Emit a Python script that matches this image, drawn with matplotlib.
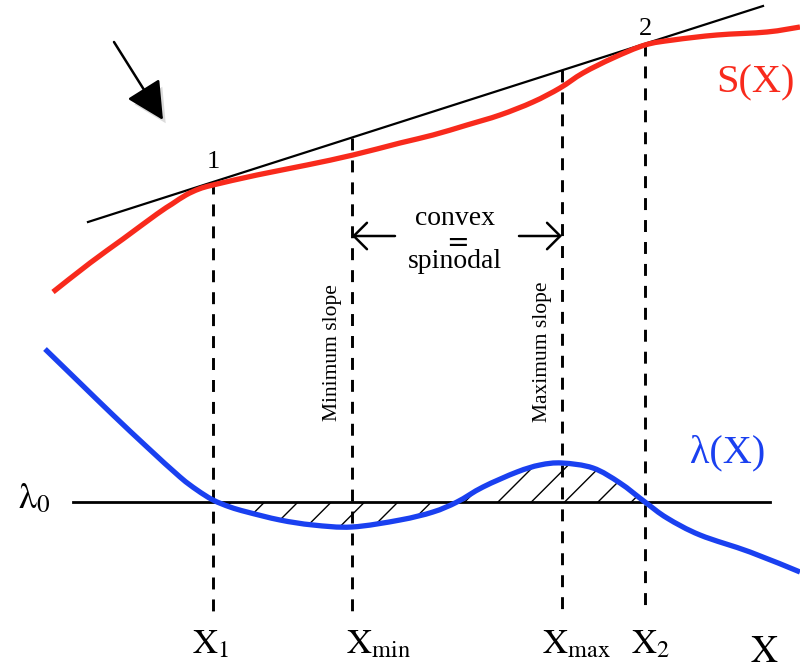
import matplotlib
matplotlib.use("Agg")
import matplotlib.pyplot as plt
import numpy as np
from matplotlib import patheffects as pe
from matplotlib.path import Path
from matplotlib.patches import PathPatch

plt.rcParams['mathtext.fontset'] = 'stix'
plt.rcParams['font.family'] = ['Liberation Serif', 'DejaVu Serif']
plt.rcParams['lines.scale_dashes'] = False
plt.rcParams['hatch.linewidth'] = 1.0

# ---- data (in picture units) ----
s_x = [53, 90, 123, 157, 172, 186, 199, 213, 257, 307, 353, 400, 433, 467, 500, 533, 560, 583, 613, 645, 673, 717, 767, 800]
s_y = [292, 263, 239, 214, 204, 195, 189, 185, 175, 165, 155, 143, 135, 125, 115, 102, 88, 73, 58, 45, 40, 35, 32, 27]

l_x = [45, 80, 113, 147, 180, 197, 213, 230, 247, 280, 313, 352, 400, 433, 457, 483, 517, 540, 562, 593, 620, 645, 667, 700, 750, 800]
l_y = [349, 383, 415, 447, 477, 490, 500, 507, 512, 520, 525, 527, 520, 512, 502, 487, 472, 465, 463, 468, 483, 502, 518, 535, 552, 572]

tangent_x = [88, 763]
tangent_y = [222, 6]

lambda0 = 502
lambda0_x = [73, 770]

v_x = [213, 352, 562, 645]
v_top = [182, 138, 70, 44]
axis_y = 613

tick_labels = [r'$\mathrm{X}_1$', r'$\mathrm{X}_{\mathrm{min}}$', r'$\mathrm{X}_{\mathrm{max}}$', r'$\mathrm{X}_2$']
tick_label_x = [211, 379, 577, 651]

RED = '#f82a1c'
BLUE = '#1a40f0'


def smooth_path_parts(xs, ys):
    """Bezier (Catmull-Rom) path through the given read points."""
    p = np.column_stack([xs, ys]).astype(float)
    n = len(p)
    verts = [p[0]]
    codes = [Path.MOVETO]
    for i in range(n - 1):
        p_prev = p[i - 1] if i > 0 else p[i]
        p_next2 = p[i + 2] if i + 2 < n else p[i + 1]
        c1 = p[i] + (p[i + 1] - p_prev) / 6.0
        c2 = p[i + 1] - (p_next2 - p[i]) / 6.0
        verts += [c1, c2, p[i + 1]]
        codes += [Path.CURVE4] * 3
    return verts, codes


fig = plt.figure(figsize=(8.0, 6.69), dpi=100)
ax = fig.add_axes([0, 0, 1, 1])
ax.set_xlim(0, 800)
ax.set_ylim(669, 0)
ax.axis('off')

# hatched region between lambda(X) and lambda0, from X1 to X2
i0 = l_x.index(v_x[0])
i1 = l_x.index(v_x[3])
hv, hc = smooth_path_parts(l_x[i0:i1 + 1], l_y[i0:i1 + 1])
hv = hv + [(v_x[3], lambda0), (v_x[0], lambda0), (v_x[0], lambda0)]
hc = hc + [Path.LINETO, Path.LINETO, Path.CLOSEPOLY]
ax.add_patch(PathPatch(Path(hv, hc), facecolor='none', edgecolor='black',
                       hatch='/', linewidth=0, zorder=1))

# vertical dashed lines
for x, top in zip(v_x, v_top):
    ax.plot([x, x], [top, axis_y], color='black', lw=2.1,
            dashes=(8.6, 7.2), zorder=2)

# lambda0 line
ax.plot(lambda0_x, [lambda0, lambda0], color='black', lw=2.0, zorder=2)

# tangent line
ax.plot(tangent_x, tangent_y, color='black', lw=1.6, zorder=3)

# curves
sv, sc = smooth_path_parts(s_x, s_y)
ax.add_patch(PathPatch(Path(sv, sc), facecolor='none', edgecolor=RED,
                       lw=3.8, capstyle='butt', zorder=4))
lv, lc = smooth_path_parts(l_x, l_y)
ax.add_patch(PathPatch(Path(lv, lc), facecolor='none', edgecolor=BLUE,
                       lw=3.8, capstyle='butt', zorder=4))

# X axis with arrow
ax.annotate('', xy=(804, axis_y), xytext=(45, axis_y),
            arrowprops=dict(arrowstyle='-|>,head_length=1.5,head_width=0.62',
                            mutation_scale=10, lw=2.0, color='black',
                            shrinkA=0, shrinkB=0), zorder=3)

# big pointer arrow top left
ann = ax.annotate('', xy=(163, 120), xytext=(114, 42),
                  arrowprops=dict(arrowstyle='-|>,head_length=2.35,head_width=1.19',
                                  mutation_scale=10, lw=1.8, color='black',
                                  shrinkA=0, shrinkB=0), zorder=5)
ann.arrow_patch.set_path_effects([
    pe.SimplePatchShadow(offset=(3, -4), shadow_rgbFace='#999999', alpha=0.35),
    pe.Normal()])

# convex = spinodal arrows
ax.annotate('', xy=(352, 236), xytext=(395, 236),
            arrowprops=dict(arrowstyle='->,head_length=0.95,head_width=0.95',
                            mutation_scale=10, lw=1.8, color='black',
                            shrinkA=0, shrinkB=0))
ax.annotate('', xy=(562, 236), xytext=(519, 236),
            arrowprops=dict(arrowstyle='->,head_length=0.95,head_width=0.95',
                            mutation_scale=10, lw=1.8, color='black',
                            shrinkA=0, shrinkB=0))
ax.text(455, 240, 'convex\n$\\mathbf{=}$\nspinodal', fontsize=20,
        ha='center', va='center', multialignment='center', linespacing=0.8)

# rotated labels
ax.text(333, 353, 'Minimum slope', fontsize=15.5, rotation=90, ha='center', va='center')
ax.text(543, 352, 'Maximum slope', fontsize=15.5, rotation=90, ha='center', va='center')

# point labels
ax.text(213, 168, '1', fontsize=19, ha='center', va='baseline')
ax.text(645, 35, '2', fontsize=19, ha='center', va='baseline')

# curve labels
ax.text(755, 92, 'S(X)', fontsize=29, color=RED, ha='center', va='baseline')
ax.text(728, 462, 'λ(X)', fontsize=29, color=BLUE, ha='center', va='baseline')
ax.text(34, 508, r'$\mathrm{λ}_0$', fontsize=26, ha='center', va='baseline')

# tick labels
for lab, x in zip(tick_labels, tick_label_x):
    ax.text(x, 653, lab, fontsize=25, ha='center', va='baseline')
ax.text(764, 662, r'$\mathrm{X}$', fontsize=27, ha='center', va='baseline')

fig.savefig('out.png', dpi=100)
